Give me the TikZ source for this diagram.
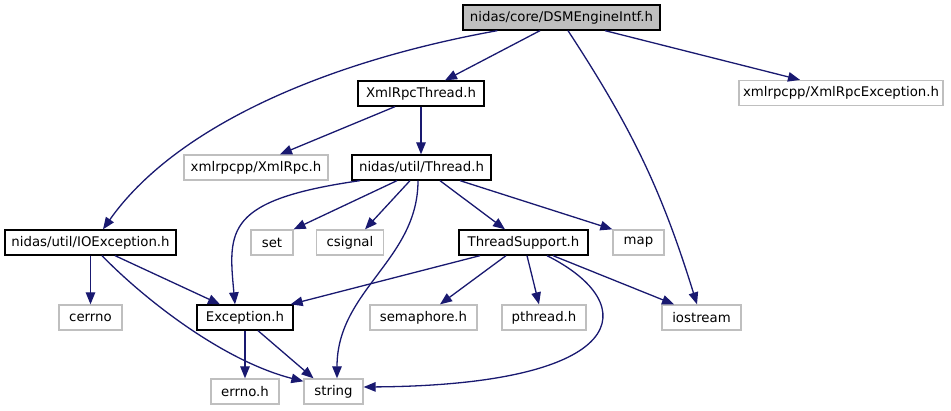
\documentclass[tikz,border=0pt]{standalone}
\usepackage{fontspec}
\setmainfont{DejaVu Sans}
\usepackage{xcolor}
\usetikzlibrary{arrows.meta}
\definecolor{clrEdge}{RGB}{25,25,112}
\definecolor{clrSys}{HTML}{BFBFBF}
\definecolor{clrRoot}{HTML}{BFBFBF}

\begin{document}
\begin{tikzpicture}[x=1pt, y=-1pt,
    hdr/.style={rectangle, draw=black, fill=white, minimum height=25pt, inner sep=0pt, align=center, font=\fontsize{13.3}{16}\selectfont, line width=1.3pt},
    sys/.style={hdr, draw=clrSys},
    top/.style={hdr, fill=clrRoot},
    arrow/.style={-{Triangle[length=12pt, width=9.5pt]}, line width=1.3pt, clrEdge},
]
\useasboundingbox (0,0) rectangle (951,411);

\node[top, minimum width=197pt] (eng) at (561.5, 17.5) {nidas/core/DSMEngineIntf.h};

\node[hdr, minimum width=126pt] (xrt) at (421, 93.5) {XmlRpcThread.h};
\node[sys, minimum width=204pt] (xre) at (841, 93) {xmlrpcpp/XmlRpcException.h};

\node[sys, minimum width=144pt] (xr) at (256, 167.5) {xmlrpcpp/XmlRpc.h};
\node[hdr, minimum width=139pt] (thr) at (421.5, 167.5) {nidas/util/Thread.h};

\node[hdr, minimum width=171pt] (ioe) at (90.5, 242.5) {nidas/util/IOException.h};
\node[sys, minimum width=42pt] (set) at (272, 242.5) {set};
\node[sys, minimum width=67pt] (csig) at (350, 242.5) {csignal};
\node[hdr, minimum width=129pt] (tsup) at (523.5, 242.5) {ThreadSupport.h};
\node[sys, minimum width=51pt] (map) at (638.5, 242.5) {map};

\node[sys, minimum width=63pt] (cerr) at (90.5, 317.5) {cerrno};
\node[hdr, minimum width=96pt] (exc) at (245, 317.5) {Exception.h};
\node[sys, minimum width=107pt] (sem) at (423.5, 317.5) {semaphore.h};
\node[sys, minimum width=84pt] (pth) at (544, 317.5) {pthread.h};
\node[sys, minimum width=79pt] (ios) at (701.5, 317.5) {iostream};

\node[sys, minimum width=68pt] (errn) at (245, 391.5) {errno.h};
\node[sys, minimum width=59pt] (str) at (333.5, 391.5) {string};

% DSMEngineIntf.h
\draw[arrow] ([xshift=-21.5pt]eng.south) -- ([xshift=24pt]xrt.north);
\draw[arrow] ([xshift=35pt]eng.south west) .. controls (318,63) and (173,130) .. ([xshift=12.5pt]ioe.north);
\draw[arrow] ([xshift=6.5pt]eng.south) to[bend left=8] ([xshift=-4.5pt]ios.north);
\draw[arrow] ([xshift=43.5pt]eng.south) -- ([xshift=-41pt]xre.north);

% XmlRpcThread.h
\draw[arrow] ([xshift=-26pt]xrt.south) -- ([xshift=24pt]xr.north);
\draw[arrow] (xrt.south) -- (xrt.south |- thr.north);

% Thread.h
\draw[arrow] ([xshift=-61.5pt]thr.south) .. controls (225,200) and (228,230) .. ([xshift=-10pt]exc.north);
\draw[arrow] ([xshift=-24.5pt]thr.south) -- (set.north east);
\draw[arrow] ([xshift=-11.5pt]thr.south) -- ([xshift=15pt]csig.north);
\draw[arrow] ([xshift=-3.5pt]thr.south) .. controls (418,260) and (337,290) .. ([xshift=3.5pt]str.north);
\draw[arrow] ([xshift=18.5pt]thr.south) -- ([xshift=-18.5pt]tsup.north);
\draw[arrow] ([xshift=38.5pt]thr.south) -- (map.north west);

% IOException.h
\draw[arrow] (ioe.south) -- (cerr.north);
\draw[arrow] ([xshift=24.5pt]ioe.south) -- ([xshift=-25pt]exc.north);
\draw[arrow] ([xshift=11.5pt]ioe.south) .. controls (140,295) and (220,360) .. ([yshift=-3pt]str.north west);

% ThreadSupport.h
\draw[arrow] ([xshift=-43.5pt]tsup.south) -- ([xshift=-3pt]exc.north east);
\draw[arrow] ([xshift=-17.5pt]tsup.south) -- ([xshift=16.5pt]sem.north);
\draw[arrow] ([xshift=3.5pt]tsup.south) -- ([xshift=-5pt]pth.north);
\draw[arrow] ([xshift=29.5pt]tsup.south) -- ([xshift=-27.5pt]ios.north);
\draw[arrow] ([xshift=23.5pt]tsup.south) .. controls (645,305) and (630,385) .. ([yshift=4.5pt]str.east);

% Exception.h
\draw[arrow] (exc.south) -- (errn.north);
\draw[arrow] ([xshift=13pt]exc.south) -- ([xshift=-20pt]str.north);

\end{tikzpicture}
\end{document}
